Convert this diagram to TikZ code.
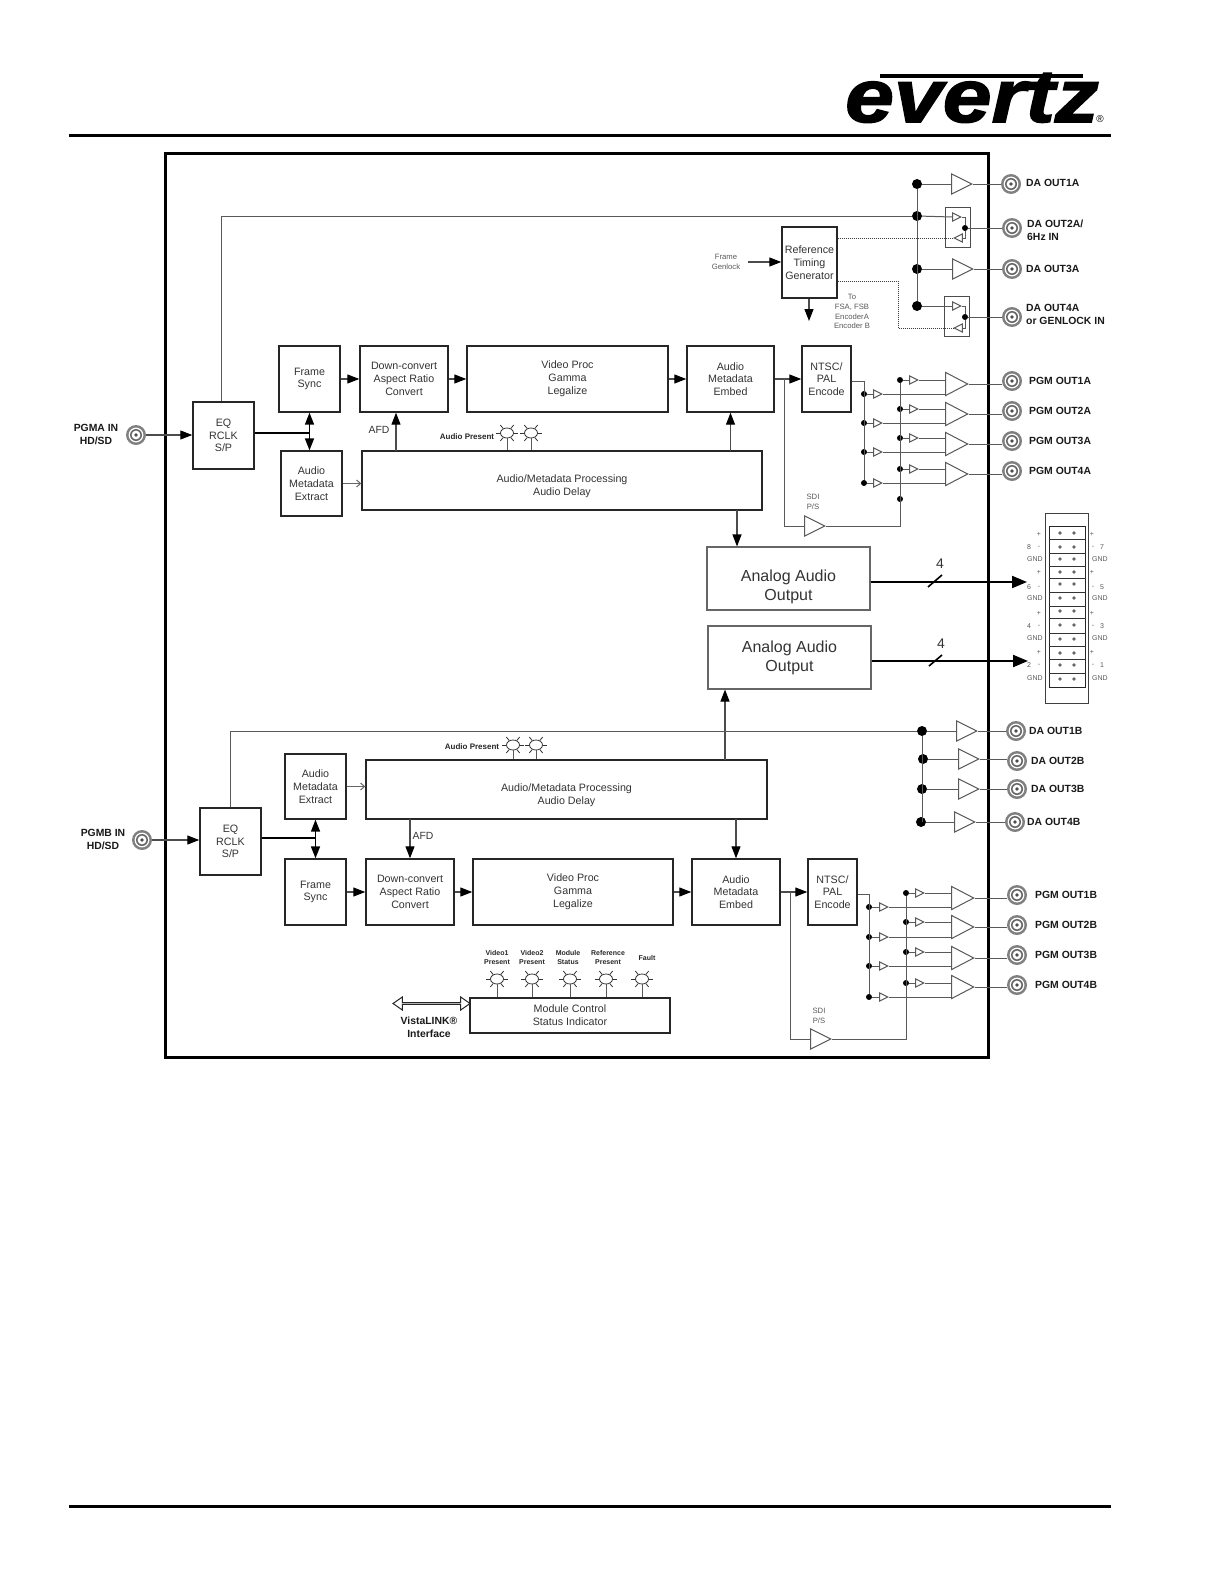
\documentclass[tikz,border=0pt]{standalone}
\usepackage{fontspec}
\setmainfont{Liberation Sans}
\newfontfamily\logofont[BoldItalicFeatures={FakeBold=2,FakeStretch=1.17}]{Liberation Sans}
\usetikzlibrary{arrows.meta,shapes.geometric,shapes.arrows}

% lamp with its rays, given name, x, y
\newcommand{\ledlamp}[3]{%
  \node[ledbody] (#1) at (#2,#3) {};
  \foreach \a in {0,50,130,180,230,310} \draw[ledray] (#1.\a) -- ++(-\a:4.5);
}

\begin{document}
\begin{tikzpicture}[
  x=1pt, y=-1pt,
  blockbox/.style={draw=black!85, line width=1.4, align=center, inner sep=0pt, text=black!80,
    font=\fontsize{10.7}{12.8}\selectfont},
  analogbox/.style={draw=black!60, line width=1.1, align=center, inner sep=0pt, text=black!80,
    minimum width=163, minimum height=63, font=\fontsize{16}{19}\selectfont},
  switchbox/.style={draw=black!70, line width=1, minimum width=25, minimum height=40, inner sep=0pt},
  wire/.style={draw=black!65, line width=1},
  dotwire/.style={draw=black!75, line width=1, densely dotted},
  sigflow/.style={-{Triangle[length=12pt,width=9pt,black]}, draw=black!70, line width=1.1},
  thinflow/.style={-{Straight Barb[length=4pt,width=7pt]}, draw=black!60, line width=1},
  busflow/.style={{Triangle[length=12pt,width=9pt]}-{Triangle[length=12pt,width=9pt]}, draw=black, line width=1.6},
  multiflow/.style={-{Triangle[length=15pt,width=12pt]}, draw=black, line width=2},
  slashmark/.style={draw=black, line width=1.6},
  bufbase/.style={isosceles triangle, isosceles triangle stretches, draw=black!65, fill=white,
    line width=1, inner sep=0pt, anchor=apex},
  bufda/.style={bufbase, minimum width=20, minimum height=20},
  bufbig/.style={bufbase, minimum width=23, minimum height=22},
  bufsmall/.style={bufbase, minimum width=8, minimum height=8},
  bufback/.style={bufsmall, shape border rotate=180},
  dotbig/.style={circle, fill=black, minimum size=10, inner sep=0pt},
  dotsmall/.style={circle, fill=black, minimum size=6, inner sep=0pt},
  bnc/.style={circle, fill=black!50, minimum size=20, inner sep=0pt, path picture={
      \fill[white] (path picture bounding box.center) circle (7.4);
      \fill[black!60] (path picture bounding box.center) circle (6);
      \fill[white] (path picture bounding box.center) circle (4.4);
      \fill[black!70] (path picture bounding box.center) circle (1.8);}},
  outlabel/.style={anchor=west, inner sep=0pt, text=black!90, align=left,
    font=\fontsize{10.4}{13}\selectfont\bfseries},
  inlabel/.style={inner sep=0pt, text=black!90, align=center, font=\fontsize{10.4}{13}\selectfont\bfseries},
  graylabel/.style={inner sep=0pt, text=black!65, align=center, font=\fontsize{7.7}{9.8}\selectfont},
  pinlabel/.style={inner sep=0pt, text=black!65, font=\fontsize{7}{8}\selectfont},
  ledlabel/.style={inner sep=0pt, text=black!85, align=center, font=\fontsize{7}{9}\selectfont\bfseries},
  prslabel/.style={inner sep=0pt, text=black!85, font=\fontsize{8}{9}\selectfont\bfseries},
  ledbody/.style={ellipse, draw=black!80, fill=white, line width=0.8, minimum width=13, minimum height=10, inner sep=0pt},
  ledray/.style={draw=black!80, line width=0.8},
  hdrpin/.style={circle, fill=black!60, minimum size=3.6, inner sep=0pt},
  hdrline/.style={draw=black!80, line width=0.9}
]
\useasboundingbox (0,0) rectangle (1224,1584);

% page furniture
\node[anchor=base, inner sep=0pt, font=\logofont\fontsize{75}{75}\selectfont\bfseries\itshape] (logo) at (972,122) {evertz};
\node[inner sep=0pt, font=\fontsize{10}{10}\selectfont] (logomark) at (1100,119) {®};
\draw[line width=3.5] (880,76) -- (1083,76);
\draw[line width=3] (69,136) -- (1111,136);
\draw[line width=3] (69,1506) -- (1111,1506);
\node[draw=black, line width=3, minimum width=823, minimum height=904, inner sep=0pt] (mainframe) at (576.5,605) {};

% channel A blocks
\node[blockbox, minimum width=61, minimum height=67] (eqa) at (223.5,435.5) {EQ\\RCLK\\S/P};
\node[blockbox, minimum width=61, minimum height=66] (framesynca) at (309.5,379) {Frame\\Sync};
\node[blockbox, minimum width=88, minimum height=66] (downconverta) at (404,379) {Down-convert\\Aspect Ratio\\Convert};
\node[blockbox, minimum width=201, minimum height=66] (videoproca) at (567.5,379) {Video Proc\\Gamma\\Legalize};
\node[blockbox, minimum width=87, minimum height=66] (embeda) at (730.5,379) {Audio\\Metadata\\Embed};
\node[blockbox, minimum width=49, minimum height=66] (ntsca) at (826.5,379) {NTSC/\\PAL\\Encode};
\node[blockbox, minimum width=61, minimum height=65] (extracta) at (311.5,483.5) {Audio\\Metadata\\Extract};
\node[blockbox, minimum width=400, minimum height=59] (procaudioa) at (562,480.5) {\rule{0pt}{19pt}Audio/Metadata Processing\\Audio Delay};
\node[analogbox] (analoga) at (788.5,578.5) {\rule{0pt}{29pt}Analog Audio\\Output};
\node[analogbox] (analogb) at (789.5,657.5) {Analog Audio\\Output};
\node[blockbox, minimum width=55, minimum height=71] (reftiming) at (809.5,262.5) {Reference\\Timing\\Generator};

% channel B blocks
\node[blockbox, minimum width=61, minimum height=67] (eqb) at (230.5,841.5) {EQ\\RCLK\\S/P};
\node[blockbox, minimum width=61, minimum height=66] (framesyncb) at (315.5,892) {Frame\\Sync};
\node[blockbox, minimum width=88, minimum height=66] (downconvertb) at (410,892) {Down-convert\\Aspect Ratio\\Convert};
\node[blockbox, minimum width=200, minimum height=66] (videoprocb) at (573,892) {Video Proc\\Gamma\\Legalize};
\node[blockbox, minimum width=88, minimum height=66] (embedb) at (736,892) {Audio\\Metadata\\Embed};
\node[blockbox, minimum width=49, minimum height=66] (ntscb) at (832.5,892) {NTSC/\\PAL\\Encode};
\node[blockbox, minimum width=61, minimum height=65] (extractb) at (315.5,786.5) {Audio\\Metadata\\Extract};
\node[blockbox, minimum width=401, minimum height=59] (procaudiob) at (566.5,789.5) {\rule{0pt}{19pt}Audio/Metadata Processing\\Audio Delay};
\node[blockbox, minimum width=200, minimum height=35] (modulectl) at (570,1015.5) {Module Control\\Status Indicator};

% inputs
\node[bnc] (pgmain) at (136,435) {};
\node[bnc] (pgmbin) at (142,840) {};
\node[inlabel] (pgmalabel) at (96,434.5) {PGMA IN\\HD/SD};
\node[inlabel] (pgmblabel) at (103,839.5) {PGMB IN\\HD/SD};
\draw[sigflow] (pgmain) -- (pgmain -| eqa.west);
\draw[sigflow] (pgmbin) -- (pgmbin -| eqb.west);

% channel A video path
\coordinate (junca) at (309.5,433);
\draw[wire, draw=black, line width=1.6] (eqa.east |- junca) -- (junca);
\draw[busflow] (framesynca.south) -- (framesynca.south |- extracta.north);
\draw[sigflow] (framesynca) -- (downconverta);
\draw[sigflow] (downconverta) -- (videoproca);
\draw[sigflow] (videoproca) -- (embeda);
\draw[sigflow] (embeda) -- (ntsca);
\draw[thinflow] (extracta) -- (extracta -| procaudioa.west);
\coordinate (afda) at (396,451);
\draw[sigflow] (afda) -- (afda |- downconverta.south);
\node[inner sep=0pt, text=black!80, font=\fontsize{10.4}{12}\selectfont] (afdalabel) at (379,430) {AFD};
\coordinate (metaa) at (730.5,451);
\draw[sigflow] (metaa) -- (embeda.south);
\coordinate (analogtapa) at (737,510);
\draw[sigflow] (analogtapa) -- (analogtapa |- analoga.north);

% channel B video path
\coordinate (juncb) at (315.5,838);
\draw[wire, draw=black, line width=1.6] (eqb.east |- juncb) -- (juncb);
\draw[busflow] (extractb.south) -- (framesyncb.north);
\draw[sigflow] (framesyncb) -- (downconvertb);
\draw[sigflow] (downconvertb) -- (videoprocb);
\draw[sigflow] (videoprocb) -- (embedb);
\draw[sigflow] (embedb) -- (ntscb);
\draw[thinflow] (extractb) -- (extractb -| procaudiob.west);
\coordinate (afdb) at (410,819);
\draw[sigflow] (afdb) -- (afdb |- downconvertb.north);
\node[inner sep=0pt, text=black!80, font=\fontsize{10.4}{12}\selectfont] (afdblabel) at (423,836) {AFD};
\coordinate (metab) at (736,819);
\draw[sigflow] (metab) -- (embedb.north);
\coordinate (analogtapb) at (725,760);
\draw[sigflow] (analogtapb) -- (analogtapb |- analogb.south);

% audio present lamps
\node[prslabel] (audioprsa) at (467,436.5) {Audio Present};
\ledlamp{ledaudioa}{507}{433}
\ledlamp{ledaudiob}{531}{433}
\draw[wire] (ledaudioa) -- (ledaudioa |- procaudioa.north);
\draw[wire] (ledaudiob) -- (ledaudiob |- procaudioa.north);
\node[prslabel] (audioprsb) at (472,747) {Audio Present};
\ledlamp{ledaudioc}{513}{745}
\ledlamp{ledaudiod}{536}{745}
\draw[wire] (ledaudioc) -- (ledaudioc |- procaudiob.north);
\draw[wire] (ledaudiod) -- (ledaudiod |- procaudiob.north);

% analog outputs and header
\coordinate (hdrina) at (1027,582);
\coordinate (hdrinb) at (1028,661);
\draw[multiflow] (analoga.east |- hdrina) -- (hdrina);
\draw[multiflow] (analogb.east |- hdrinb) -- (hdrinb);
\draw[slashmark] (928,587) -- (942,575);
\draw[slashmark] (929,666) -- (942,655);
\node[inner sep=0pt, text=black!80, font=\fontsize{14}{14}\selectfont] (counta) at (940,564) {4};
\node[inner sep=0pt, text=black!80, font=\fontsize{14}{14}\selectfont] (countb) at (941,644) {4};

\node[draw=black!75, line width=1, minimum width=43, minimum height=190, inner sep=0pt] (hdrouter) at (1066.5,608) {};
\node[draw=black!85, line width=1, minimum width=36, minimum height=161, inner sep=0pt] (hdrinner) at (1067,606.5) {};
\foreach \y in {539,553,566,578,592,606,618,633,646,659,673}
  \draw[hdrline] (hdrinner.west |- 0,\y) -- (hdrinner.east |- 0,\y);
\foreach \r/\y in {1/533,2/547,3/559,4/572,5/584,6/598,7/611,8/625,9/639,10/653,11/665,12/679} {
  \node[hdrpin] (hdrpinl\r) at (1060,\y) {};
  \node[hdrpin] (hdrpinr\r) at (1074,\y) {};
}
\foreach \g/\p/\m/\s/\l/\n in {1/534/547/559/8/7,2/572/587/598/6/5,3/613/626/638/4/3,4/652/665/678/2/1} {
  \node[pinlabel] (plusl\g) at (1039,\p) {+};
  \node[pinlabel] (numl\g) at (1029,\m) {\l};
  \node[pinlabel] (minusl\g) at (1039,\m) {-};
  \node[pinlabel] (gndl\g) at (1035,\s) {GND};
  \node[pinlabel] (plusr\g) at (1092,\p) {+};
  \node[pinlabel] (minusr\g) at (1093,\m) {-};
  \node[pinlabel] (numr\g) at (1102,\m) {\n};
  \node[pinlabel] (gndr\g) at (1100,\s) {GND};
}

% reference generator
\node[graylabel] (genlocklabel) at (726,262) {Frame\\Genlock};
\coordinate (genlockin) at (748,262);
\draw[sigflow] (genlockin) -- (genlockin -| reftiming.west);
\coordinate (refout) at (809,321);
\draw[sigflow] (refout |- reftiming.south) -- (refout);
\node[graylabel] (fsalabel) at (852,311.5) {To\\FSA, FSB\\EncoderA\\Encoder B};

% DA outputs A
\node[dotbig] (dota1) at (917,184) {};
\node[dotbig] (dota2) at (917,216) {};
\node[dotbig] (dota3) at (917,269) {};
\node[dotbig] (dota4) at (917,306) {};
\draw[wire] (dota1) -- (dota4);
\draw[wire] ([xshift=-2.5]eqa.north) |- (dota2);
\node[bufda] (bufda1) at (973,184) {};
\node[bufda] (bufda3) at (974,269) {};
\node[bnc] (bncda1) at (1011,184) {};
\node[bnc] (bncda2) at (1012,228) {};
\node[bnc] (bncda3) at (1012,269) {};
\node[bnc] (bncda4) at (1012,317) {};
\draw[wire] (dota1) -- (bufda1.west);
\draw[wire] (bufda1.apex) -- (bncda1);
\draw[wire] (dota3) -- (bufda3.west);
\draw[wire] (bufda3.apex) -- (bncda3);

\node[switchbox] (swboxa) at (957.5,227) {};
\node[bufsmall] (swua) at (962,217) {};
\node[bufback] (swla) at (953,238) {};
\node[dotsmall] (swdota) at (965,228) {};
\draw[wire] (dota2) -- (swua.west);
\draw[wire] (swua.apex) -| (swdota);
\draw[wire] (swla.east) -| (swdota);
\draw[wire] (swdota) -- (bncda2);
\draw[dotwire] (reftiming.east |- swla) -- (swla.apex);

\node[switchbox] (swboxb) at (957,316.5) {};
\node[bufsmall] (swub) at (962,306) {};
\node[bufback] (swlb) at (953,328) {};
\node[dotsmall] (swdotb) at (965,317) {};
\draw[wire] (dota4) -- (swub.west);
\draw[wire] (swub.apex) -| (swdotb);
\draw[wire] (swlb.east) -| (swdotb);
\draw[wire] (swdotb) -- (bncda4);
\coordinate (refbend) at (898,281);
\draw[dotwire] (reftiming.east |- refbend) -- (refbend) |- (swlb.apex);

\node[outlabel] (daouta1) at (1026,183) {DA OUT1A};
\node[outlabel] (daouta2) at (1027,230.5) {DA OUT2A/\\6Hz IN};
\node[outlabel] (daouta3) at (1026,269) {DA OUT3A};
\node[outlabel] (daouta4) at (1026,314.5) {DA OUT4A\\or GENLOCK IN};

% PGM outputs A
\foreach \i/\yu/\yl/\yc/\yo in {1/380/394/384/381,2/409/423/414/411,3/438/452/444/441,4/469/483/474/471} {
  \node[dotsmall] (pgmdota\i) at (864,\yl) {};
  \node[bufsmall] (pgmlowa\i) at (883,\yl) {};
  \node[dotsmall] (pgmupa\i) at (900,\yu) {};
  \node[bufsmall] (pgmhia\i) at (919,\yu) {};
  \node[bufbig] (pgmbufa\i) at (969,\yc) {};
  \node[bnc] (pgmouta\i) at (1012,\yo) {};
  \node[outlabel] (pgmlabela\i) at (1029,\yo) {PGM OUT\i A};
  \draw[wire] (pgmdota\i) -- (pgmlowa\i.west);
  \draw[wire] (pgmlowa\i.apex) -- (pgmbufa\i.west |- pgmlowa\i.apex);
  \draw[wire] (pgmupa\i) -- (pgmhia\i.west);
  \draw[wire] (pgmhia\i.apex) -- (pgmbufa\i.west |- pgmhia\i.apex);
  \draw[wire] (pgmbufa\i.apex) -- (pgmbufa\i.apex -| pgmouta\i.west);
}
\draw[wire] ([yshift=-2]ntsca.east) -| (pgmdota4);
\node[bufda] (sdibufa) at (826,526) {};
\node[dotsmall] (sdijunca) at (900,499) {};
\node[graylabel] (sdilabela) at (813,502) {SDI\\P/S};
\coordinate (sditapa) at (784,379);
\draw[wire] (sditapa) |- (sdibufa.west);
\draw[wire] (sdibufa.apex) -| (pgmupa1);

% DA outputs B
\node[dotbig] (dotb1) at (922,731) {};
\node[dotbig] (dotb2) at (923,759) {};
\node[dotbig] (dotb3) at (922,789) {};
\node[dotbig] (dotb4) at (921,822) {};
\draw[wire] (dotb1) -- (dotb1 |- dotb4);
\draw[wire] (eqb.north) |- (dotb1);
\foreach \i/\y/\ya/\xa/\xb/\xl in {1/731/731/978/1016/1029,2/759/761/980/1017/1031,3/789/789/980/1017/1031,4/822/822/976/1015/1027} {
  \node[bufda] (bufdb\i) at (\xa,\y) {};
  \node[bnc] (bncdb\i) at (\xb,\ya) {};
  \node[outlabel] (daoutb\i) at (\xl,\ya) {DA OUT\i B};
  \draw[wire] (dotb\i) -- (bufdb\i.west);
  \draw[wire] (bufdb\i.apex) -- (bufdb\i.apex -| bncdb\i.west);
}

% PGM outputs B
\foreach \i/\yu/\yl/\yc/\yo in {1/893/907/898/895,2/922/937/927/925,3/952/966/958/955,4/983/997/987/985} {
  \node[dotsmall] (pgmdotb\i) at (869,\yl) {};
  \node[bufsmall] (pgmlowb\i) at (889,\yl) {};
  \node[dotsmall] (pgmupb\i) at (906,\yu) {};
  \node[bufsmall] (pgmhib\i) at (925,\yu) {};
  \node[bufbig] (pgmbufb\i) at (975,\yc) {};
  \node[bnc] (pgmoutb\i) at (1017,\yo) {};
  \node[outlabel] (pgmlabelb\i) at (1035,\yo) {PGM OUT\i B};
  \draw[wire] (pgmdotb\i) -- (pgmlowb\i.west);
  \draw[wire] (pgmlowb\i.apex) -- (pgmbufb\i.west |- pgmlowb\i.apex);
  \draw[wire] (pgmupb\i) -- (pgmhib\i.west);
  \draw[wire] (pgmhib\i.apex) -- (pgmbufb\i.west |- pgmhib\i.apex);
  \draw[wire] (pgmbufb\i.apex) -- (pgmbufb\i.apex -| pgmoutb\i.west);
}
\draw[wire] ([yshift=-2]ntscb.east) -| (pgmdotb4);
\node[bufda] (sdibufb) at (832,1039) {};
\node[graylabel] (sdilabelb) at (819,1016) {SDI\\P/S};
\coordinate (sditapb) at (790,892);
\draw[wire] (sditapb) |- (sdibufb.west);
\draw[wire] (sdibufb.apex) -| (pgmupb1);

% module status
\foreach \n/\x in {video1/497,video2/532,status/570,refok/606,fault/642} {
  \ledlamp{led\n}{\x}{979}
  \draw[wire] (led\n) -- (led\n |- modulectl.north);
}
\node[ledlabel] (ledvideo1label) at (497,957.5) {Video1\\Present};
\node[ledlabel] (ledvideo2label) at (532,957.5) {Video2\\Present};
\node[ledlabel] (ledstatuslabel) at (568,957.5) {Module\\Status};
\node[ledlabel] (ledrefoklabel) at (608,957.5) {Reference\\Present};
\node[ledlabel] (ledfaultlabel) at (647,957.5) {Fault};
\node[double arrow, draw=black!85, fill=white, line width=1, minimum height=77, minimum width=13,
  double arrow head extend=3, double arrow tip angle=70, inner sep=0pt] (vista) at (431.5,1003.5) {};
\node[inlabel] (vistalabel) at (429,1027) {VistaLINK®\\Interface};

\end{tikzpicture}
\end{document}
